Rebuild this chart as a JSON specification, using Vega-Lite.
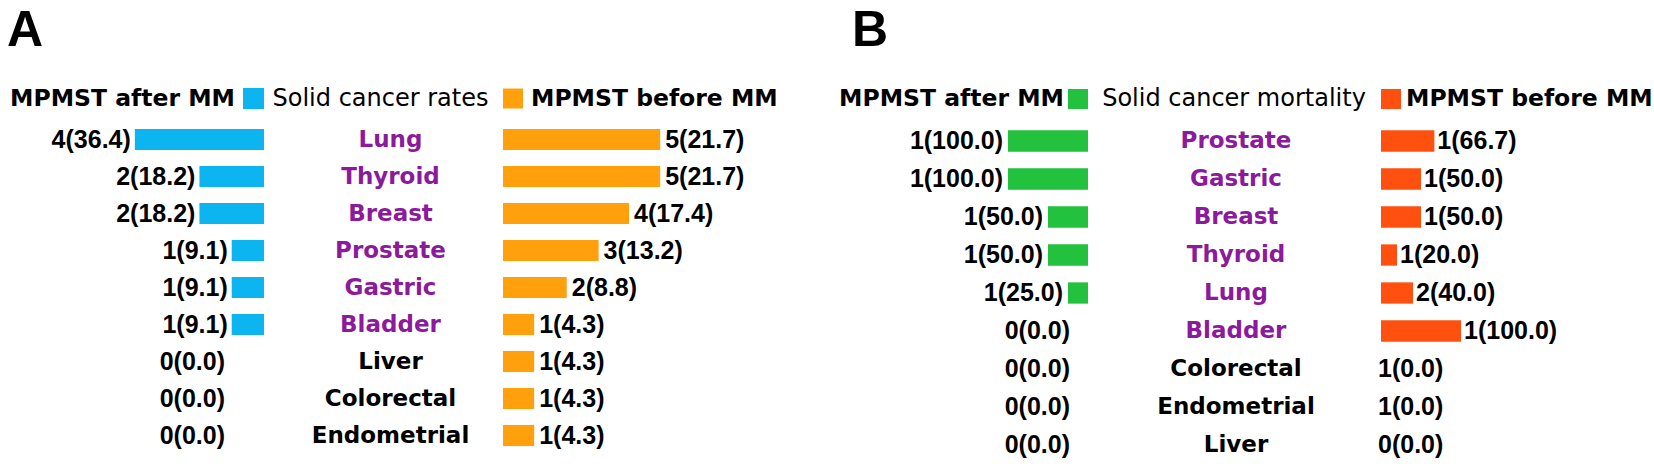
{
  "$schema": "https://vega.github.io/schema/vega-lite/v6.json",
  "padding": {"top": 6, "left": 0, "right": 0, "bottom": 0},
  "background": "white",
  "spacing": 0,
  "config": {"view": {"stroke": null}, "concat": {"spacing": 0}},
  "datasets": {
    "rates": [
      {"cancer": "Lung", "after_n": 4, "after_pct": 36.4, "after_label": "4(36.4)", "before_n": 5, "before_pct": 21.7, "before_label": "5(21.7)"},
      {"cancer": "Thyroid", "after_n": 2, "after_pct": 18.2, "after_label": "2(18.2)", "before_n": 5, "before_pct": 21.7, "before_label": "5(21.7)"},
      {"cancer": "Breast", "after_n": 2, "after_pct": 18.2, "after_label": "2(18.2)", "before_n": 4, "before_pct": 17.4, "before_label": "4(17.4)"},
      {"cancer": "Prostate", "after_n": 1, "after_pct": 9.1, "after_label": "1(9.1)", "before_n": 3, "before_pct": 13.2, "before_label": "3(13.2)"},
      {"cancer": "Gastric", "after_n": 1, "after_pct": 9.1, "after_label": "1(9.1)", "before_n": 2, "before_pct": 8.8, "before_label": "2(8.8)"},
      {"cancer": "Bladder", "after_n": 1, "after_pct": 9.1, "after_label": "1(9.1)", "before_n": 1, "before_pct": 4.3, "before_label": "1(4.3)"},
      {"cancer": "Liver", "after_n": 0, "after_pct": 0, "after_label": "0(0.0)", "before_n": 1, "before_pct": 4.3, "before_label": "1(4.3)"},
      {"cancer": "Colorectal", "after_n": 0, "after_pct": 0, "after_label": "0(0.0)", "before_n": 1, "before_pct": 4.3, "before_label": "1(4.3)"},
      {"cancer": "Endometrial", "after_n": 0, "after_pct": 0, "after_label": "0(0.0)", "before_n": 1, "before_pct": 4.3, "before_label": "1(4.3)"}
    ],
    "mortality": [
      {"cancer": "Prostate", "after_n": 1, "after_pct": 100.0, "after_label": "1(100.0)", "before_n": 1, "before_pct": 66.7, "before_label": "1(66.7)"},
      {"cancer": "Gastric", "after_n": 1, "after_pct": 100.0, "after_label": "1(100.0)", "before_n": 1, "before_pct": 50.0, "before_label": "1(50.0)"},
      {"cancer": "Breast", "after_n": 1, "after_pct": 50.0, "after_label": "1(50.0)", "before_n": 1, "before_pct": 50.0, "before_label": "1(50.0)"},
      {"cancer": "Thyroid", "after_n": 1, "after_pct": 50.0, "after_label": "1(50.0)", "before_n": 1, "before_pct": 20.0, "before_label": "1(20.0)"},
      {"cancer": "Lung", "after_n": 1, "after_pct": 25.0, "after_label": "1(25.0)", "before_n": 2, "before_pct": 40.0, "before_label": "2(40.0)"},
      {"cancer": "Bladder", "after_n": 0, "after_pct": 0, "after_label": "0(0.0)", "before_n": 1, "before_pct": 100.0, "before_label": "1(100.0)"},
      {"cancer": "Colorectal", "after_n": 0, "after_pct": 0, "after_label": "0(0.0)", "before_n": 1, "before_pct": 0, "before_label": "1(0.0)"},
      {"cancer": "Endometrial", "after_n": 0, "after_pct": 0, "after_label": "0(0.0)", "before_n": 1, "before_pct": 0, "before_label": "1(0.0)"},
      {"cancer": "Liver", "after_n": 0, "after_pct": 0, "after_label": "0(0.0)", "before_n": 0, "before_pct": 0, "before_label": "0(0.0)"}
    ]
  },
  "hconcat": [
    {
      "title": {"text": "A", "font": "Liberation Sans", "fontSize": 50, "fontWeight": "bold", "color": "#000000", "anchor": "start", "baseline": "top", "dx": 7, "offset": 28},
      "spacing": 0,
      "hconcat": [
        {
          "width": 264, "height": 370,
          "data": {"name": "rates"},
          "encoding": {"y": {"field": "cancer", "type": "nominal", "axis": null, "scale": {"domain": ["hdr", "Lung", "Thyroid", "Breast", "Prostate", "Gastric", "Bladder", "Liver", "Colorectal", "Endometrial"], "paddingInner": 0.43, "paddingOuter": 0.215}}},
          "layer": [
            {"mark": {"type": "bar", "color": "#0db5f0"}, "encoding": {"x": {"field": "after_pct", "type": "quantitative", "axis": null, "scale": {"domain": [0, 74.4], "reverse": true, "nice": false}}}},
            {"transform": [{"filter": "datum.after_pct > 0"}], "mark": {"type": "text", "align": "right", "dx": -4, "font": "Liberation Sans", "fontSize": 25, "fontWeight": "bold", "color": "#000000"}, "encoding": {"x": {"field": "after_pct", "type": "quantitative"}, "text": {"field": "after_label"}}},
            {"transform": [{"filter": "datum.after_pct == 0"}], "mark": {"type": "text", "align": "right", "dx": -39, "font": "Liberation Sans", "fontSize": 25, "fontWeight": "bold", "color": "#000000"}, "encoding": {"x": {"field": "after_pct", "type": "quantitative"}, "text": {"field": "after_label"}}},
            {"data": {"values": [{}]}, "mark": {"type": "point", "shape": "square", "filled": true, "opacity": 1, "size": 441, "color": "#0db5f0", "xOffset": -10.5, "yOffset": -4}, "encoding": {"x": {"datum": 0, "type": "quantitative"}, "y": {"datum": "hdr", "type": "nominal"}}},
            {"data": {"values": [{}]}, "mark": {"type": "text", "text": "MPMST after MM", "align": "right", "dx": -29, "yOffset": -4, "font": "DejaVu Sans", "fontSize": 23.5, "fontWeight": "bold", "color": "#000000"}, "encoding": {"x": {"datum": 0, "type": "quantitative"}, "y": {"datum": "hdr", "type": "nominal"}}}
          ]
        },
        {
          "width": 239, "height": 370,
          "data": {"name": "rates"},
          "encoding": {"y": {"field": "cancer", "type": "nominal", "axis": null, "scale": {"domain": ["hdr", "Lung", "Thyroid", "Breast", "Prostate", "Gastric", "Bladder", "Liver", "Colorectal", "Endometrial"], "paddingInner": 0.43, "paddingOuter": 0.215}}},
          "layer": [
            {"mark": {"type": "text", "dx": 7, "font": "DejaVu Sans", "fontSize": 23, "fontWeight": "bold"}, "encoding": {"text": {"field": "cancer"}, "color": {"condition": {"test": "datum.after_n > 0", "value": "#8b1a9c"}, "value": "#000000"}}},
            {"data": {"values": [{}]}, "mark": {"type": "text", "text": "Solid cancer rates", "dx": -3, "yOffset": -4, "font": "DejaVu Sans", "fontSize": 24, "color": "#000000"}, "encoding": {"y": {"datum": "hdr", "type": "nominal"}}}
          ]
        },
        {
          "width": 297, "height": 370,
          "data": {"name": "rates"},
          "encoding": {"y": {"field": "cancer", "type": "nominal", "axis": null, "scale": {"domain": ["hdr", "Lung", "Thyroid", "Breast", "Prostate", "Gastric", "Bladder", "Liver", "Colorectal", "Endometrial"], "paddingInner": 0.43, "paddingOuter": 0.215}}},
          "layer": [
            {"mark": {"type": "bar", "color": "#ffa00c"}, "encoding": {"x": {"field": "before_pct", "type": "quantitative", "axis": null, "scale": {"domain": [0, 41.0], "nice": false}}}},
            {"mark": {"type": "text", "align": "left", "dx": 5, "font": "Liberation Sans", "fontSize": 25, "fontWeight": "bold", "color": "#000000"}, "encoding": {"x": {"field": "before_pct", "type": "quantitative"}, "text": {"field": "before_label"}}},
            {"data": {"values": [{}]}, "mark": {"type": "point", "shape": "square", "filled": true, "opacity": 1, "size": 400, "color": "#ffa00c", "xOffset": 10, "yOffset": -4}, "encoding": {"x": {"datum": 0, "type": "quantitative"}, "y": {"datum": "hdr", "type": "nominal"}}},
            {"data": {"values": [{}]}, "mark": {"type": "text", "text": "MPMST before MM", "align": "left", "dx": 28, "yOffset": -4, "font": "DejaVu Sans", "fontSize": 23.5, "fontWeight": "bold", "color": "#000000"}, "encoding": {"x": {"datum": 0, "type": "quantitative"}, "y": {"datum": "hdr", "type": "nominal"}}}
          ]
        }
      ]
    },
    {
      "title": {"text": "B", "font": "Liberation Sans", "fontSize": 50, "fontWeight": "bold", "color": "#000000", "anchor": "start", "baseline": "top", "dx": 52, "offset": 28},
      "spacing": 0,
      "hconcat": [
        {
          "width": 288, "height": 380,
          "data": {"name": "mortality"},
          "encoding": {"y": {"field": "cancer", "type": "nominal", "axis": null, "scale": {"domain": ["hdr", "Prostate", "Gastric", "Breast", "Thyroid", "Lung", "Bladder", "Colorectal", "Endometrial", "Liver"], "paddingInner": 0.44, "paddingOuter": 0.22}}},
          "layer": [
            {"mark": {"type": "bar", "color": "#22c13e"}, "encoding": {"x": {"field": "after_pct", "type": "quantitative", "axis": null, "scale": {"domain": [0, 360], "reverse": true, "nice": false}}}},
            {"transform": [{"filter": "datum.after_pct > 0"}], "mark": {"type": "text", "align": "right", "dx": -5, "font": "Liberation Sans", "fontSize": 25, "fontWeight": "bold", "color": "#000000"}, "encoding": {"x": {"field": "after_pct", "type": "quantitative"}, "text": {"field": "after_label"}}},
            {"transform": [{"filter": "datum.after_pct == 0"}], "mark": {"type": "text", "align": "right", "dx": -18, "font": "Liberation Sans", "fontSize": 25, "fontWeight": "bold", "color": "#000000"}, "encoding": {"x": {"field": "after_pct", "type": "quantitative"}, "text": {"field": "after_label"}}},
            {"data": {"values": [{}]}, "mark": {"type": "point", "shape": "square", "filled": true, "opacity": 1, "size": 400, "color": "#22c13e", "xOffset": -10, "yOffset": -4}, "encoding": {"x": {"datum": 0, "type": "quantitative"}, "y": {"datum": "hdr", "type": "nominal"}}},
            {"data": {"values": [{}]}, "mark": {"type": "text", "text": "MPMST after MM", "align": "right", "dx": -24, "yOffset": -4, "font": "DejaVu Sans", "fontSize": 23.5, "fontWeight": "bold", "color": "#000000"}, "encoding": {"x": {"datum": 0, "type": "quantitative"}, "y": {"datum": "hdr", "type": "nominal"}}}
          ]
        },
        {
          "width": 290, "height": 380,
          "data": {"name": "mortality"},
          "encoding": {"y": {"field": "cancer", "type": "nominal", "axis": null, "scale": {"domain": ["hdr", "Prostate", "Gastric", "Breast", "Thyroid", "Lung", "Bladder", "Colorectal", "Endometrial", "Liver"], "paddingInner": 0.44, "paddingOuter": 0.22}}},
          "layer": [
            {"mark": {"type": "text", "dx": 3, "font": "DejaVu Sans", "fontSize": 23, "fontWeight": "bold"}, "encoding": {"text": {"field": "cancer"}, "color": {"condition": {"test": "datum.before_pct > 0", "value": "#8b1a9c"}, "value": "#000000"}}},
            {"data": {"values": [{}]}, "mark": {"type": "text", "text": "Solid cancer mortality", "dx": 1, "yOffset": -4, "font": "DejaVu Sans", "fontSize": 24, "color": "#000000"}, "encoding": {"y": {"datum": "hdr", "type": "nominal"}}}
          ]
        },
        {
          "width": 276, "height": 380,
          "data": {"name": "mortality"},
          "encoding": {"y": {"field": "cancer", "type": "nominal", "axis": null, "scale": {"domain": ["hdr", "Prostate", "Gastric", "Breast", "Thyroid", "Lung", "Bladder", "Colorectal", "Endometrial", "Liver"], "paddingInner": 0.44, "paddingOuter": 0.22}}},
          "layer": [
            {"mark": {"type": "bar", "color": "#ff5010"}, "encoding": {"x": {"field": "before_pct", "type": "quantitative", "axis": null, "scale": {"domain": [0, 345], "nice": false}}}},
            {"transform": [{"filter": "datum.before_pct > 0"}], "mark": {"type": "text", "align": "left", "dx": 3, "font": "Liberation Sans", "fontSize": 25, "fontWeight": "bold", "color": "#000000"}, "encoding": {"x": {"field": "before_pct", "type": "quantitative"}, "text": {"field": "before_label"}}},
            {"transform": [{"filter": "datum.before_pct == 0"}], "mark": {"type": "text", "align": "left", "dx": -3, "font": "Liberation Sans", "fontSize": 25, "fontWeight": "bold", "color": "#000000"}, "encoding": {"x": {"field": "before_pct", "type": "quantitative"}, "text": {"field": "before_label"}}},
            {"data": {"values": [{}]}, "mark": {"type": "point", "shape": "square", "filled": true, "opacity": 1, "size": 400, "color": "#ff5010", "xOffset": 10, "yOffset": -4}, "encoding": {"x": {"datum": 0, "type": "quantitative"}, "y": {"datum": "hdr", "type": "nominal"}}},
            {"data": {"values": [{}]}, "mark": {"type": "text", "text": "MPMST before MM", "align": "left", "dx": 25, "yOffset": -4, "font": "DejaVu Sans", "fontSize": 23.5, "fontWeight": "bold", "color": "#000000"}, "encoding": {"x": {"datum": 0, "type": "quantitative"}, "y": {"datum": "hdr", "type": "nominal"}}}
          ]
        }
      ]
    }
  ]
}
